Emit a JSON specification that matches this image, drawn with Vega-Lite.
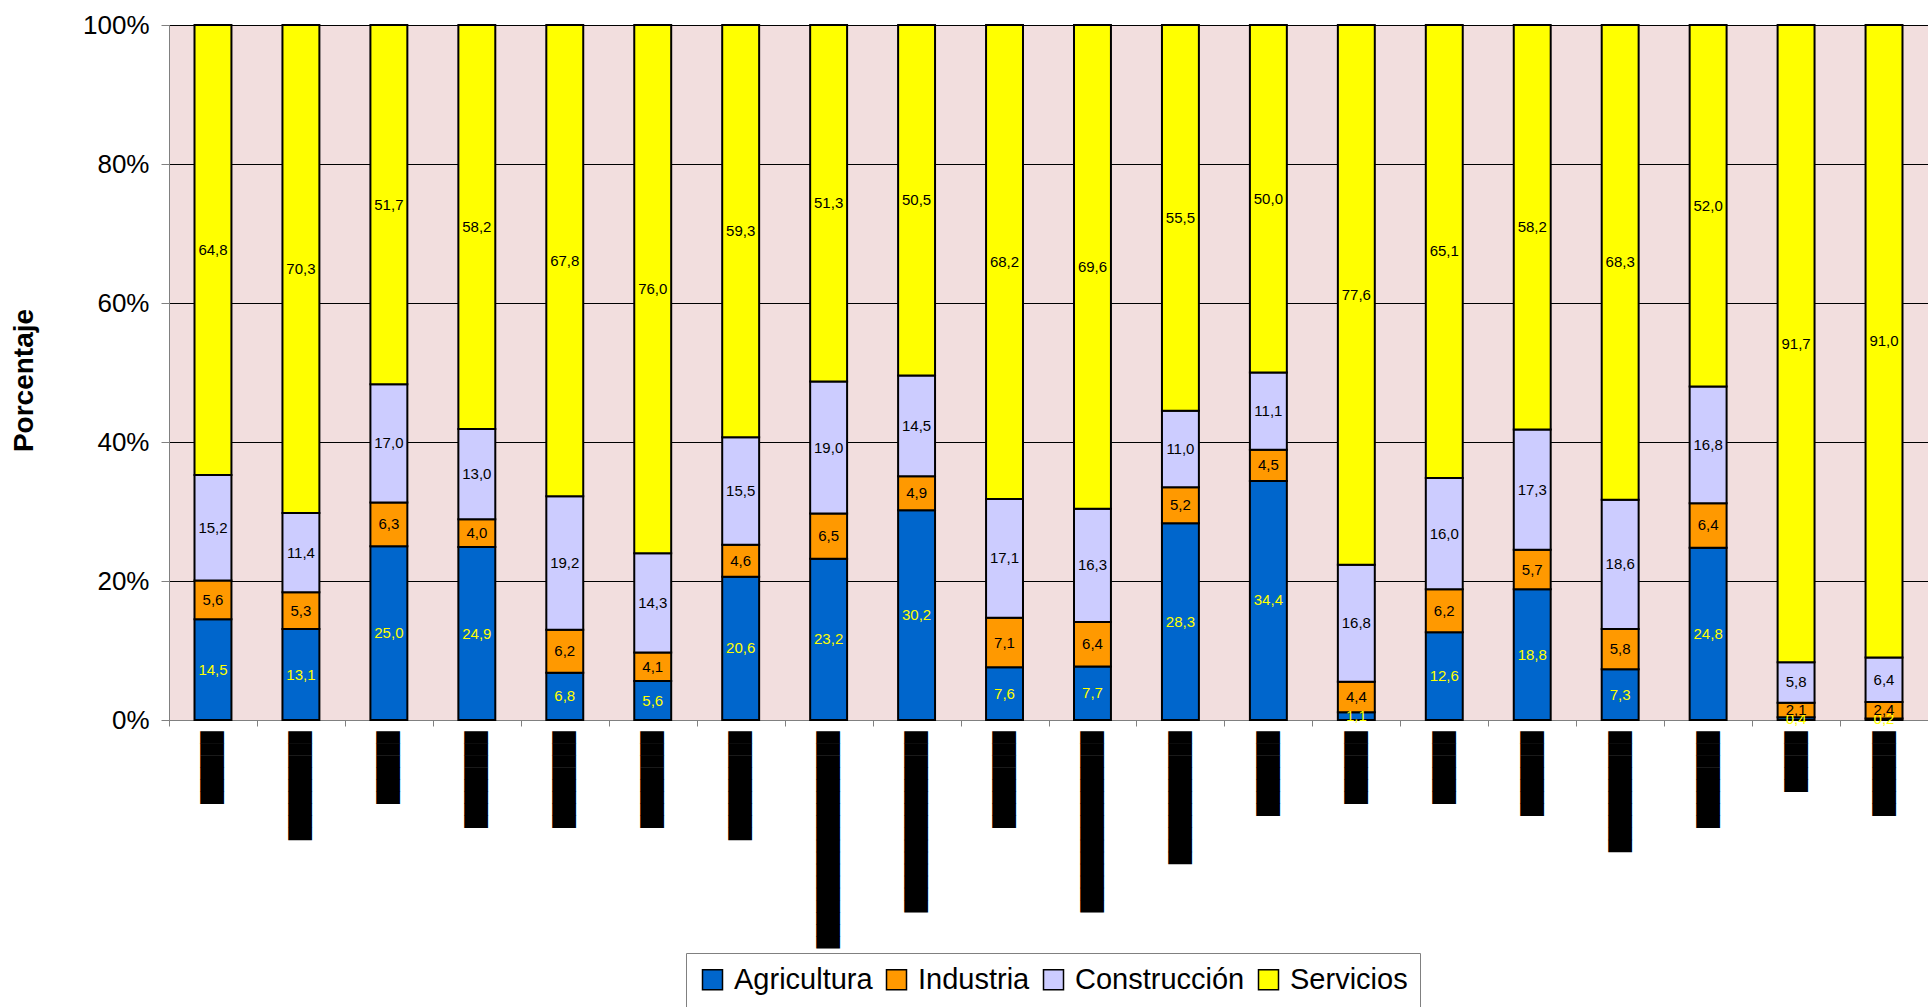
{
  "$schema": "https://vega.github.io/schema/vega-lite/v6.json",
  "width": 1759,
  "height": 695,
  "autosize": {"type": "none"},
  "padding": {"left": 169, "top": 25, "right": 0, "bottom": 287},
  "config": {
    "locale": {"number": {"decimal": ",", "thousands": ".", "grouping": [3], "currency": ["", " €"]}},
    "view": {"fill": "#F2DEDE", "stroke": null},
    "font": "Liberation Sans"
  },
  "data": {"values": [
    {"region": "España", "sector": "Agricultura", "valor": 14.5},
    {"region": "España", "sector": "Industria", "valor": 5.6},
    {"region": "España", "sector": "Construcción", "valor": 15.2},
    {"region": "España", "sector": "Servicios", "valor": 64.8},
    {"region": "Andalucía", "sector": "Agricultura", "valor": 13.1},
    {"region": "Andalucía", "sector": "Industria", "valor": 5.3},
    {"region": "Andalucía", "sector": "Construcción", "valor": 11.4},
    {"region": "Andalucía", "sector": "Servicios", "valor": 70.3},
    {"region": "Aragón", "sector": "Agricultura", "valor": 25.0},
    {"region": "Aragón", "sector": "Industria", "valor": 6.3},
    {"region": "Aragón", "sector": "Construcción", "valor": 17.0},
    {"region": "Aragón", "sector": "Servicios", "valor": 51.7},
    {"region": "Asturias", "sector": "Agricultura", "valor": 24.9},
    {"region": "Asturias", "sector": "Industria", "valor": 4.0},
    {"region": "Asturias", "sector": "Construcción", "valor": 13.0},
    {"region": "Asturias", "sector": "Servicios", "valor": 58.2},
    {"region": "Baleares", "sector": "Agricultura", "valor": 6.8},
    {"region": "Baleares", "sector": "Industria", "valor": 6.2},
    {"region": "Baleares", "sector": "Construcción", "valor": 19.2},
    {"region": "Baleares", "sector": "Servicios", "valor": 67.8},
    {"region": "Canarias", "sector": "Agricultura", "valor": 5.6},
    {"region": "Canarias", "sector": "Industria", "valor": 4.1},
    {"region": "Canarias", "sector": "Construcción", "valor": 14.3},
    {"region": "Canarias", "sector": "Servicios", "valor": 76.0},
    {"region": "Cantabria", "sector": "Agricultura", "valor": 20.6},
    {"region": "Cantabria", "sector": "Industria", "valor": 4.6},
    {"region": "Cantabria", "sector": "Construcción", "valor": 15.5},
    {"region": "Cantabria", "sector": "Servicios", "valor": 59.3},
    {"region": "Castilla-La Mancha", "sector": "Agricultura", "valor": 23.2},
    {"region": "Castilla-La Mancha", "sector": "Industria", "valor": 6.5},
    {"region": "Castilla-La Mancha", "sector": "Construcción", "valor": 19.0},
    {"region": "Castilla-La Mancha", "sector": "Servicios", "valor": 51.3},
    {"region": "Castilla y León", "sector": "Agricultura", "valor": 30.2},
    {"region": "Castilla y León", "sector": "Industria", "valor": 4.9},
    {"region": "Castilla y León", "sector": "Construcción", "valor": 14.5},
    {"region": "Castilla y León", "sector": "Servicios", "valor": 50.5},
    {"region": "Cataluña", "sector": "Agricultura", "valor": 7.6},
    {"region": "Cataluña", "sector": "Industria", "valor": 7.1},
    {"region": "Cataluña", "sector": "Construcción", "valor": 17.1},
    {"region": "Cataluña", "sector": "Servicios", "valor": 68.2},
    {"region": "Com. Valenciana", "sector": "Agricultura", "valor": 7.7},
    {"region": "Com. Valenciana", "sector": "Industria", "valor": 6.4},
    {"region": "Com. Valenciana", "sector": "Construcción", "valor": 16.3},
    {"region": "Com. Valenciana", "sector": "Servicios", "valor": 69.6},
    {"region": "Extremadura", "sector": "Agricultura", "valor": 28.3},
    {"region": "Extremadura", "sector": "Industria", "valor": 5.2},
    {"region": "Extremadura", "sector": "Construcción", "valor": 11.0},
    {"region": "Extremadura", "sector": "Servicios", "valor": 55.5},
    {"region": "Galicia", "sector": "Agricultura", "valor": 34.4},
    {"region": "Galicia", "sector": "Industria", "valor": 4.5},
    {"region": "Galicia", "sector": "Construcción", "valor": 11.1},
    {"region": "Galicia", "sector": "Servicios", "valor": 50.0},
    {"region": "Madrid", "sector": "Agricultura", "valor": 1.1},
    {"region": "Madrid", "sector": "Industria", "valor": 4.4},
    {"region": "Madrid", "sector": "Construcción", "valor": 16.8},
    {"region": "Madrid", "sector": "Servicios", "valor": 77.6},
    {"region": "Murcia", "sector": "Agricultura", "valor": 12.6},
    {"region": "Murcia", "sector": "Industria", "valor": 6.2},
    {"region": "Murcia", "sector": "Construcción", "valor": 16.0},
    {"region": "Murcia", "sector": "Servicios", "valor": 65.1},
    {"region": "Navarra", "sector": "Agricultura", "valor": 18.8},
    {"region": "Navarra", "sector": "Industria", "valor": 5.7},
    {"region": "Navarra", "sector": "Construcción", "valor": 17.3},
    {"region": "Navarra", "sector": "Servicios", "valor": 58.2},
    {"region": "País Vasco", "sector": "Agricultura", "valor": 7.3},
    {"region": "País Vasco", "sector": "Industria", "valor": 5.8},
    {"region": "País Vasco", "sector": "Construcción", "valor": 18.6},
    {"region": "País Vasco", "sector": "Servicios", "valor": 68.3},
    {"region": "La Rioja", "sector": "Agricultura", "valor": 24.8},
    {"region": "La Rioja", "sector": "Industria", "valor": 6.4},
    {"region": "La Rioja", "sector": "Construcción", "valor": 16.8},
    {"region": "La Rioja", "sector": "Servicios", "valor": 52.0},
    {"region": "Ceuta", "sector": "Agricultura", "valor": 0.4},
    {"region": "Ceuta", "sector": "Industria", "valor": 2.1},
    {"region": "Ceuta", "sector": "Construcción", "valor": 5.8},
    {"region": "Ceuta", "sector": "Servicios", "valor": 91.7},
    {"region": "Melilla", "sector": "Agricultura", "valor": 0.2},
    {"region": "Melilla", "sector": "Industria", "valor": 2.4},
    {"region": "Melilla", "sector": "Construcción", "valor": 6.4},
    {"region": "Melilla", "sector": "Servicios", "valor": 91.0}
  ]},
  "transform": [
    {"calculate": "indexof(['Agricultura','Industria','Construcción','Servicios'], datum.sector)", "as": "orden"},
    {"window": [{"op": "sum", "field": "valor", "as": "acum"}], "groupby": ["region"], "sort": [{"field": "orden"}], "frame": [null, 0]},
    {"joinaggregate": [{"op": "sum", "field": "valor", "as": "total"}], "groupby": ["region"]},
    {"calculate": "(datum.acum - datum.valor / 2) / datum.total", "as": "medio"}
  ],
  "encoding": {
    "x": {
      "field": "region",
      "type": "nominal",
      "sort": null,
      "scale": {"paddingInner": 0, "paddingOuter": 0},
      "axis": {
        "title": null,
        "labelAngle": -90,
        "labelAlign": "right",
        "labelBaseline": "middle",
        "labelFont": "DejaVu Sans Mono",
        "labelFontSize": 20,
        "labelColor": "#000000",
        "labelLimit": 500,
        "labelPadding": 5,
        "labelExpr": "replace(datum.label, regexp('.', 'g'), '\u2588')",
        "tickBand": "extent",
        "tickSize": 6,
        "tickColor": "#808080",
        "domainColor": "#808080",
        "grid": false
      }
    }
  },
  "layer": [
    {
      "mark": {"type": "bar", "width": {"band": 0.42}, "stroke": "#000000", "strokeWidth": 2},
      "encoding": {
        "y": {
          "field": "valor",
          "type": "quantitative",
          "stack": "normalize",
          "scale": {"domain": [0, 1]},
          "axis": {
            "format": ".0%",
            "values": [0, 0.2, 0.4, 0.6, 0.8, 1],
            "title": "Porcentaje",
            "titleFontSize": 28,
            "titleFontWeight": "bold",
            "titleColor": "#000000",
            "titleX": -131,
            "titleY": 355,
            "labelFontSize": 26,
            "labelColor": "#000000",
            "labelPadding": 12,
            "tickSize": 8,
            "tickColor": "#808080",
            "domainColor": "#808080",
            "gridColor": "#000000",
            "gridWidth": 1
          }
        },
        "color": {
          "field": "sector",
          "type": "nominal",
          "scale": {
            "domain": ["Agricultura", "Industria", "Construcción", "Servicios"],
            "range": ["#0066CC", "#FF9900", "#CCCCFF", "#FFFF00"]
          },
          "legend": {
            "orient": "none",
            "legendX": 517,
            "legendY": 928,
            "direction": "horizontal",
            "title": null,
            "labelFont": "Liberation Sans",
            "labelFontSize": 29,
            "labelColor": "#000000",
            "labelLimit": 400,
            "symbolType": "square",
            "symbolSize": 400,
            "symbolStrokeColor": "#000000",
            "symbolStrokeWidth": 1.5,
            "symbolOpacity": 1,
            "strokeColor": "#808080",
            "fillColor": "#FFFFFF",
            "padding": 12,
            "columnPadding": 9,
            "labelOffset": 7
          }
        },
        "order": {"field": "orden"}
      }
    },
    {
      "transform": [{"filter": "datum.sector === 'Agricultura'"}],
      "mark": {"type": "text", "color": "#FFFF00", "fontSize": 15},
      "encoding": {
        "y": {"field": "medio", "type": "quantitative"},
        "text": {"field": "valor", "type": "quantitative", "format": ".1f"}
      }
    },
    {
      "transform": [{"filter": "datum.sector !== 'Agricultura'"}],
      "mark": {"type": "text", "color": "#000000", "fontSize": 15},
      "encoding": {
        "y": {"field": "medio", "type": "quantitative"},
        "text": {"field": "valor", "type": "quantitative", "format": ".1f"}
      }
    }
  ]
}
